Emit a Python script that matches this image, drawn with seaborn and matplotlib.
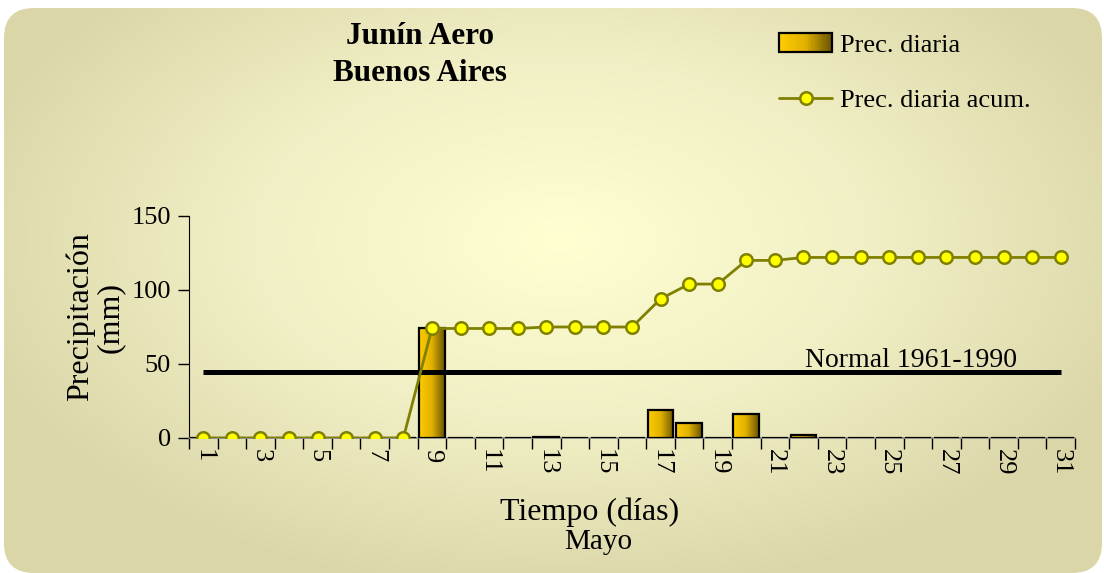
import numpy as np
import pandas as pd
import matplotlib
matplotlib.use("Agg")
import matplotlib.pyplot as plt
import seaborn as sns
from matplotlib.patches import FancyBboxPatch, Rectangle
from matplotlib.lines import Line2D
from matplotlib.legend_handler import HandlerPatch
from matplotlib.colors import LinearSegmentedColormap

# datos: Junin Aero, mayo
dias = list(range(1, 32))
prec_diaria = [0, 0, 0, 0, 0, 0, 0, 0, 74, 0, 0, 0, 1, 0, 0, 0, 19, 10, 0, 16,
               0, 2, 0, 0, 0, 0, 0, 0, 0, 0, 0]
prec_acum = [0, 0, 0, 0, 0, 0, 0, 0, 74, 74, 74, 74, 75, 75, 75, 75, 94, 104, 104, 120,
             120, 122, 122, 122, 122, 122, 122, 122, 122, 122, 122]
normal = 44.6
etiquetas_x = [str(d) if d % 2 == 1 else "" for d in dias]

df = pd.DataFrame({"dia": dias, "diaria": prec_diaria, "acum": prec_acum})

sns.set_style("white")
plt.rcParams["font.family"] = ["Liberation Serif", "DejaVu Serif"]
plt.rcParams["text.color"] = "black"
plt.rcParams["axes.labelcolor"] = "black"
plt.rcParams["xtick.color"] = "black"
plt.rcParams["ytick.color"] = "black"

W, H = 1104, 573
fig = plt.figure(figsize=(W / 100, H / 100), dpi=100)
fig.patch.set_facecolor("white")

# fondo con degradado
bg = fig.add_axes([0, 0, 1, 1], zorder=-5)
bg.set_xlim(0, W)
bg.set_ylim(H, 0)
bg.axis("off")
yy, xx = np.mgrid[0:H, 0:W]
t = np.sqrt(((xx - 560) / 620.0) ** 2 + ((yy - 240) / 360.0) ** 2)
t = np.clip(t, 0, 1)
cmap_bg = LinearSegmentedColormap.from_list("bg", ["#FFFFD2", "#F1EFC5", "#DAD6A8"])
img = bg.imshow(t, cmap=cmap_bg, extent=(0, W, H, 0), aspect="auto", vmin=0, vmax=1)
caja = FancyBboxPatch((4, 8), W - 6, H - 8, boxstyle="round,pad=0,rounding_size=30",
                      facecolor="none", edgecolor="none", transform=bg.transData)
bg.add_patch(caja)
img.set_clip_path(caja)

ax = fig.add_axes([189 / W, 1 - 438 / H, (1075 - 189) / W, (438 - 216) / H])
ax.set_facecolor("none")

sns.barplot(data=df, x="dia", y="diaria", width=0.9, color="#FFCC00",
            edgecolor="black", linewidth=1.6, ax=ax, zorder=3)

cmap_bar = LinearSegmentedColormap.from_list("bar", ["#FFCC00", "#E0B000", "#6B5500"])
grad = np.linspace(0, 1, 64).reshape(1, -1)
for p in ax.patches:
    if p.get_height() <= 0:
        continue
    x0, w, h = p.get_x(), p.get_width(), p.get_height()
    p.set_facecolor("none")
    im = ax.imshow(grad, cmap=cmap_bar, extent=(x0, x0 + w, 0, h), aspect="auto", zorder=2.5)
    im.set_clip_path(p)

ax.hlines(normal, 0, 30, color="black", lw=3.6, zorder=4)
ax.text(21.05, normal - 0.8, "Normal 1961-1990", fontsize=20, ha="left", va="bottom", zorder=3.5)

sns.lineplot(x=np.arange(31), y=df["acum"], ax=ax, color="#808000", lw=2,
             marker="o", markersize=9, markerfacecolor="#FFFF00", markeredgecolor="#808000",
             markeredgewidth=1.8, zorder=5)

ax.set_xlim(-0.5, 30.5)
ax.set_ylim(0, 150)
ax.set_yticks([0, 50, 100, 150])
ax.set_yticklabels(["0", "50", "100", "150"], fontsize=19)
ax.set_xticks(np.arange(-0.5, 31, 1))
ax.set_xticklabels([])
ax.set_xticks(np.arange(31), minor=True)
ax.set_xticklabels(etiquetas_x, minor=True, rotation=-90, fontsize=19)
ax.tick_params(axis="x", which="major", length=8, width=1, color="black", direction="out", bottom=True)
ax.tick_params(axis="x", which="minor", length=0, pad=8, bottom=True)
ax.tick_params(axis="y", length=8, width=1, color="black", direction="out", left=True, pad=5)
for s in ["top", "right"]:
    ax.spines[s].set_visible(False)
ax.spines["left"].set_color("black")
ax.spines["bottom"].set_color("#808080")
ax.spines["bottom"].set_linewidth(1.2)
ax.set_xlabel("")
ax.set_ylabel("Precipitación\n(mm)", fontsize=23, linespacing=1.05)
ax.yaxis.set_label_coords(-0.072, 0.545)

fig.text(590 / W, 1 - 512 / H, "Tiempo (días)", fontsize=23, ha="center", va="center")
fig.text(598 / W, 1 - 542 / H, "Mayo", fontsize=21, ha="center", va="center")
fig.text(420 / W, 1 - 55 / H, "Junín Aero\nBuenos Aires", fontsize=22.5, fontweight="bold",
         ha="center", va="center", linespacing=1.38)


class HandlerGrad(HandlerPatch):
    def create_artists(self, legend, orig_handle, xdescent, ydescent, width, height, fontsize, trans):
        arts = []
        n = 24
        for i in range(n):
            r = Rectangle((-xdescent + width * i / n, -ydescent), width / n + 0.3, height,
                          facecolor=cmap_bar(i / (n - 1)), edgecolor="none", transform=trans)
            arts.append(r)
        arts.append(Rectangle((-xdescent, -ydescent), width, height, facecolor="none",
                              edgecolor="black", lw=1.6, transform=trans))
        return arts


h_bar = Rectangle((0, 0), 1, 1)
h_line = Line2D([], [], color="#808000", lw=2, marker="o", markersize=9,
                markerfacecolor="#FFFF00", markeredgecolor="#808000", markeredgewidth=1.8)
leg = fig.legend([h_bar, h_line], ["Prec. diaria", "Prec. diaria acum."],
                 handler_map={Rectangle: HandlerGrad()}, loc="upper left",
                 bbox_to_anchor=(761 / W, 1 - 15 / H), frameon=False, fontsize=19,
                 handlelength=2.0, handleheight=0.7, labelspacing=1.2, handletextpad=0.3,
                 borderpad=0.2)

fig.savefig("out.png", dpi=100)
